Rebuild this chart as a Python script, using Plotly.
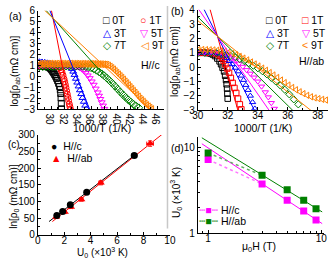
import numpy as np
import plotly.graph_objects as go

W, H = 334, 267
FONT = "Liberation Sans, Arial, DejaVu Sans, sans-serif"

# ---------------- panel (a): H//c, log(rho) vs 1000/T ----------------
a0_x = [28.2, 28.5, 28.8, 29.1, 29.4, 29.6, 29.75, 29.9, 30.05, 30.2, 30.35, 30.5, 30.65, 30.8, 30.95, 31.1, 31.25, 31.35, 31.42, 31.47, 31.5, 31.52]
a0_y = [0.95, 0.95, 0.94, 0.93, 0.9, 0.86, 0.8, 0.72, 0.6, 0.47, 0.33, 0.18, 0.02, -0.17, -0.38, -0.62, -0.9, -1.2, -1.55, -1.95, -2.45, -2.95]
a1_x = [28.2, 28.6, 29.0, 29.4, 29.8, 30.2, 30.6, 30.9, 31.1, 31.3, 31.45, 31.6, 31.75, 31.9, 32.0, 32.1, 32.2, 32.3, 32.4, 32.5, 32.6, 32.7, 32.8, 32.9]
a1_y = [1.0, 1.0, 1.0, 1.0, 1.0, 1.0, 0.98, 0.95, 0.9, 0.8, 0.62, 0.4, 0.12, -0.2, -0.45, -0.72, -1.0, -1.3, -1.6, -1.9, -2.2, -2.5, -2.75, -3.0]
a3_x = [28.2, 28.6, 29.0, 29.4, 29.8, 30.2, 30.6, 31.0, 31.4, 31.8, 32.2, 32.6, 32.9, 33.1, 33.3, 33.5, 33.7, 33.9, 34.1, 34.3, 34.5, 34.7, 34.9, 35.1, 35.3]
a3_y = [1.35, 1.33, 1.3, 1.25, 1.2, 1.15, 1.1, 1.05, 1.0, 1.0, 0.98, 0.95, 0.85, 0.7, 0.45, 0.15, -0.2, -0.55, -0.9, -1.25, -1.6, -1.95, -2.3, -2.65, -2.95]
a5_x = [28.2, 28.7, 29.2, 29.7, 30.2, 30.7, 31.2, 31.7, 32.2, 32.7, 33.2, 33.6, 34.0, 34.3, 34.6, 34.9, 35.2, 35.5, 35.8, 36.1, 36.4, 36.7, 37.0, 37.2, 37.4, 37.6, 37.8, 38.0]
a5_y = [1.0, 1.0, 1.0, 1.0, 1.0, 1.0, 1.0, 1.0, 0.98, 0.97, 0.95, 0.92, 0.87, 0.8, 0.68, 0.52, 0.33, 0.1, -0.15, -0.45, -0.75, -1.1, -1.45, -1.75, -2.05, -2.35, -2.65, -2.95]
a7_x = [28.2, 28.7, 29.2, 29.7, 30.2, 30.7, 31.2, 31.7, 32.2, 32.7, 33.2, 33.7, 34.2, 34.7, 35.2, 35.6, 36.0, 36.4, 36.8, 37.2, 37.6, 38.0, 38.4, 38.8, 39.2, 39.6, 40.0, 40.4, 40.8, 41.2, 41.6, 42.0, 42.4, 42.8, 43.2]
a7_y = [0.9, 0.9, 0.9, 0.9, 0.92, 0.93, 0.94, 0.95, 0.95, 0.95, 0.95, 0.95, 0.94, 0.93, 0.9, 0.86, 0.8, 0.7, 0.57, 0.42, 0.25, 0.06, -0.15, -0.38, -0.62, -0.88, -1.14, -1.4, -1.65, -1.9, -2.12, -2.33, -2.52, -2.7, -2.85]
a9_x = [28.2, 28.45, 28.7, 28.95, 29.2, 29.45, 29.7, 29.95, 30.2, 30.45, 30.7, 30.95, 31.2, 31.45, 31.7, 31.95, 32.2, 32.45, 32.7, 32.95,
        33.2, 33.45, 33.7, 33.95, 34.2, 34.45, 34.7, 34.95, 35.2, 35.45, 35.7, 35.95, 36.2, 36.45, 36.7, 36.95, 37.2, 37.45, 37.7, 37.95,
        38.2, 38.45, 38.7, 38.95, 39.2, 39.45, 39.7, 39.95, 40.2, 40.45, 40.7, 40.95, 41.2, 41.45, 41.7, 41.95, 42.2, 42.45, 42.7, 42.95,
        43.2, 43.45, 43.7, 43.95, 44.2, 44.45, 44.7, 44.95, 45.2]
a9_y = [1.15, 1.17, 1.16, 1.18, 1.15, 1.17, 1.16, 1.18, 1.15, 1.17, 1.16, 1.18, 1.15, 1.17, 1.16, 1.18, 1.15, 1.17, 1.16, 1.18,
        1.15, 1.17, 1.16, 1.17, 1.15, 1.16, 1.16, 1.17, 1.15, 1.16, 1.15, 1.16, 1.15, 1.15, 1.14, 1.14, 1.13, 1.13, 1.12, 1.11,
        1.1, 1.08, 1.0, 0.9, 0.78, 0.65, 0.5, 0.35, 0.2, 0.05, -0.1, -0.27, -0.44, -0.6, -0.78, -0.95, -1.12, -1.3, -1.47, -1.65,
        -1.82, -2.0, -2.15, -2.3, -2.45, -2.6, -2.72, -2.85, -2.97]
a_fields = ["0T", "1T", "3T", "5T", "7T", "9T"]
a_xticks = [30, 32, 34, 36, 38, 40, 42, 44, 46]
# linear fits in (a): slope and the common crossing point
a_fit_names = ["1T", "3T", "7T", "9T"]
a_fit_slope = [-3.1, -1.5, -0.676, -0.565]
a_cross = (30.24, 5.33)

# ---------------- panel (b): H//ab ----------------
b0_x = [30.05, 30.25, 30.45, 30.65, 30.85, 31.0, 31.15, 31.3, 31.45, 31.55, 31.65, 31.75, 31.82, 31.88, 31.92, 31.95, 31.97, 31.99]
b0_y = [1.0, 1.0, 1.0, 0.98, 0.95, 0.88, 0.77, 0.6, 0.4, 0.2, -0.05, -0.3, -0.6, -0.9, -1.2, -1.5, -1.85, -2.2]
b1_x = [30.05, 30.3, 30.55, 30.8, 31.05, 31.3, 31.45, 31.6, 31.72, 31.84, 31.96, 32.08, 32.2, 32.32, 32.44, 32.56, 32.68, 32.8, 32.9]
b1_y = [1.0, 1.0, 1.0, 1.0, 0.98, 0.92, 0.82, 0.65, 0.45, 0.2, -0.1, -0.4, -0.75, -1.1, -1.45, -1.8, -2.2, -2.6, -2.95]
b3_x = [30.05, 30.35, 30.65, 30.95, 31.25, 31.5, 31.7, 31.9, 32.1, 32.3, 32.5, 32.7, 32.9, 33.05, 33.2, 33.35, 33.5, 33.65, 33.8]
b3_y = [1.0, 1.0, 1.0, 1.0, 0.97, 0.9, 0.8, 0.62, 0.42, 0.2, -0.05, -0.3, -0.6, -0.9, -1.25, -1.6, -2.0, -2.45, -2.9]
b5_x = [30.05, 30.4, 30.75, 31.1, 31.45, 31.75, 32.0, 32.25, 32.5, 32.75, 33.0, 33.25, 33.5, 33.75, 34.0, 34.25, 34.5, 34.7, 34.9, 35.1]
b5_y = [1.0, 1.0, 1.0, 1.0, 0.97, 0.9, 0.78, 0.62, 0.45, 0.25, 0.03, -0.2, -0.45, -0.72, -1.0, -1.35, -1.75, -2.1, -2.5, -2.9]
b7_x = [30.05, 30.45, 30.85, 31.25, 31.6, 31.9, 32.2, 32.5, 32.8, 33.1, 33.4, 33.7, 34.0, 34.3, 34.6, 34.9, 35.2, 35.5, 35.8, 36.1, 36.4, 36.7]
b7_y = [1.0, 1.0, 1.0, 0.98, 0.93, 0.86, 0.78, 0.68, 0.56, 0.42, 0.27, 0.1, -0.08, -0.28, -0.5, -0.75, -1.0, -1.28, -1.58, -1.9, -2.25, -2.6]
b9_x = [30.05, 30.3, 30.55, 30.8, 31.05, 31.3, 31.55, 31.8, 32.05, 32.3, 32.55, 32.8, 33.05, 33.3, 33.55, 33.8, 34.05, 34.3, 34.55, 34.8,
        35.05, 35.3, 35.55, 35.8, 36.05, 36.3, 36.55, 36.8, 37.05, 37.3, 37.55, 37.8, 38.05, 38.3, 38.55]
b9_y = [1.22, 1.23, 1.22, 1.21, 1.2, 1.18, 1.15, 1.1, 1.03, 0.95, 0.86, 0.75, 0.63, 0.5, 0.36, 0.22, 0.08, -0.07, -0.22, -0.38,
        -0.55, -0.72, -0.9, -1.08, -1.25, -1.42, -1.58, -1.72, -1.85, -1.97, -2.07, -2.15, -2.2, -2.25, -2.3]
b_xticks = [30, 32, 34, 36, 38]
b_fit_names = ["1T", "3T", "5T", "7T", "9T"]
b_fit_slope = [-3.8, -2.1, -1.5, -1.03, -0.83]
b_cross = (31.31, 2.15)

# ---------------- panel (c): ln(rho0) vs U0 ----------------
c_Uc = [1.44, 1.88, 2.46, 3.7, 7.3]
c_lnc = [58, 70, 90, 128, 238]
c_Uab = [1.38, 2.05, 2.52, 3.3, 4.77, 8.5]
c_lnab = [53, 68, 83, 106, 156, 274]
c_errx_c = [0.08, 0.08, 0.1, 0.12, 0.2]
c_erry_c = [3, 3, 4, 5, 6]
c_errx_ab = [0.08, 0.08, 0.1, 0.12, 0.15, 0.25]
c_erry_ab = [3, 3, 4, 5, 6, 8]
c_fit_range_c = [0.85, 7.5]
c_fit_range_ab = [1.1, 9.7]

# ---------------- panel (d): U0 vs mu0H ----------------
d_H = [1, 3, 5, 7, 9]
d_Uc = [7.2, 3.75, 2.43, 1.82, 1.43]
d_Uab = [8.6, 4.72, 3.22, 2.43, 1.93]
d_fit_range = [0.88, 10.2]
d_minor_x = [0.9, 2, 3, 4, 5, 6, 7, 8, 9]
d_minor_y = [2, 3, 4, 5, 6, 7, 8, 9]

cols = {"0T": "#000000", "1T": "#ff0000", "3T": "#0000ff", "5T": "#ff00ff", "7T": "#008000", "9T": "#ff8000"}
sym_a = {"0T": "square-open", "1T": "circle-open", "3T": "triangle-up-open", "5T": "triangle-down-open",
         "7T": "diamond-open", "9T": "triangle-left-open"}
sym_b = dict(sym_a, **{"1T": "square-open"})
glyph_a = {"0T": "□", "1T": "○", "3T": "△", "5T": "▽", "7T": "◇", "9T": "◁"}
glyph_b = dict(glyph_a, **{"1T": "□", "9T": "&lt;"})

fig = go.Figure()

# (a) data
a_series = {"0T": (a0_x, a0_y), "1T": (a1_x, a1_y), "3T": (a3_x, a3_y), "5T": (a5_x, a5_y), "7T": (a7_x, a7_y), "9T": (a9_x, a9_y)}
for f in a_fields:
    xs, ys = a_series[f]
    fig.add_trace(go.Scatter(x=xs, y=ys, mode="markers", name=f, xaxis="x", yaxis="y",
                             marker=dict(symbol=sym_a[f], size=6, color=cols[f], line=dict(width=1, color=cols[f]))))
for f, s in zip(a_fit_names, a_fit_slope):
    xl = np.array([28.0, 47.0])
    fig.add_trace(go.Scatter(x=xl, y=a_cross[1] + s * (xl - a_cross[0]), mode="lines", xaxis="x", yaxis="y",
                             line=dict(color=cols[f], width=1), hoverinfo="skip"))

# (b) data
b_series = {"0T": (b0_x, b0_y), "1T": (b1_x, b1_y), "3T": (b3_x, b3_y), "5T": (b5_x, b5_y), "7T": (b7_x, b7_y), "9T": (b9_x, b9_y)}
for f in a_fields:
    xs, ys = b_series[f]
    fig.add_trace(go.Scatter(x=xs, y=ys, mode="markers", name=f, xaxis="x2", yaxis="y2",
                             marker=dict(symbol=sym_b[f], size=5.5, color=cols[f], line=dict(width=1, color=cols[f]))))
for f, s in zip(b_fit_names, b_fit_slope):
    xl = np.array([30.0, 39.0])
    fig.add_trace(go.Scatter(x=xl, y=b_cross[1] + s * (xl - b_cross[0]), mode="lines", xaxis="x2", yaxis="y2",
                             line=dict(color=cols[f], width=1), hoverinfo="skip"))

# (c)
pc = np.polyfit(c_Uc, c_lnc, 1)
pab = np.polyfit(c_Uab, c_lnab, 1)
xr = np.array(c_fit_range_ab)
fig.add_trace(go.Scatter(x=xr, y=np.polyval(pab, xr), mode="lines", xaxis="x3", yaxis="y3", line=dict(color="#ff0000", width=1)))
xr = np.array(c_fit_range_c)
fig.add_trace(go.Scatter(x=xr, y=np.polyval(pc, xr), mode="lines", xaxis="x3", yaxis="y3", line=dict(color="#000000", width=1)))
fig.add_trace(go.Scatter(x=c_Uab, y=c_lnab, mode="markers", name="H//ab", xaxis="x3", yaxis="y3",
                         marker=dict(symbol="triangle-up", size=7, color="#ff0000"),
                         error_x=dict(type="data", array=c_errx_ab, color="#ff0000", thickness=1, width=2),
                         error_y=dict(type="data", array=c_erry_ab, color="#ff0000", thickness=1, width=2)))
fig.add_trace(go.Scatter(x=c_Uc, y=c_lnc, mode="markers", name="H//c", xaxis="x3", yaxis="y3",
                         marker=dict(symbol="circle", size=7, color="#000000"),
                         error_x=dict(type="data", array=c_errx_c, color="#000000", thickness=1, width=2),
                         error_y=dict(type="data", array=c_erry_c, color="#000000", thickness=1, width=2)))

# (d)
for U, col, dcol in [(d_Uc, "#ff00ff", "#ff77ff"), (d_Uab, "#008000", "#66b066")]:
    p = np.polyfit(np.log10(d_H[1:]), np.log10(U[1:]), 1)
    xr = np.array(d_fit_range)
    fig.add_trace(go.Scatter(x=xr, y=10 ** np.polyval(p, np.log10(xr)), mode="lines", xaxis="x4", yaxis="y4",
                             line=dict(color=col, width=1)))
    fig.add_trace(go.Scatter(x=d_H[:2], y=U[:2], mode="lines", xaxis="x4", yaxis="y4",
                             line=dict(color=dcol, width=1.5, dash="dot")))
    fig.add_trace(go.Scatter(x=d_H, y=U, mode="markers", xaxis="x4", yaxis="y4",
                             marker=dict(symbol="square", size=7, color=col)))

tf = dict(size=10, color="black", family=FONT)


def ax(domain, rng, anchor, dtick=None, minor=None, typ="linear", tickvals=None, minorvals=None, xdir=False):
    d = dict(domain=domain, range=rng, anchor=anchor, type=typ, ticks="inside", ticklen=3, tickwidth=1,
             tickcolor="black", showline=True, linecolor="black", linewidth=1, mirror=False, showgrid=False,
             zeroline=False, tickfont=tf, fixedrange=True)
    if xdir:
        d["ticklabelstandoff"] = -4
    if dtick is not None:
        d.update(dtick=dtick, tick0=0)
        d["minor"] = dict(ticks="inside", ticklen=2, dtick=minor, tick0=0, tickcolor="black", showgrid=False)
    if tickvals is not None:
        d.update(tickmode="array", tickvals=tickvals, ticktext=[str(v) for v in tickvals])
        if minorvals is not None:
            d["minor"] = dict(ticks="inside", ticklen=2, tickmode="array", tickvals=minorvals, tickcolor="black", showgrid=False)
        else:
            d["minor"] = dict(ticks="inside", ticklen=2, dtick=minor, tick0=0, tickcolor="black", showgrid=False)
    return d


fig.update_layout(
    width=W, height=H, margin=dict(l=0, r=0, t=0, b=0), paper_bgcolor="white", plot_bgcolor="rgba(0,0,0,0)",
    showlegend=False, font=dict(family=FONT, size=10.5, color="black"),
    xaxis=ax([33.3 / W, 163.9 / W], [28, 47], "y", minor=1, tickvals=a_xticks, xdir=True),
    yaxis=ax([1 - 108.3 / H, 1 - 5 / H], [-3, 6], "x", 1, 0.5),
    xaxis2=ax([199 / W, 1.0], [30, 38.68], "y2", minor=1, tickvals=b_xticks, xdir=True),
    yaxis2=ax([1 - 109 / H, 1 - 4 / H], [-3, 4], "x2", 1, 0.5),
    xaxis3=ax([33 / W, 170 / W], [0, 10], "y3", 2, 1, xdir=True),
    yaxis3=ax([1 - 239.5 / H, 1 - 135 / H], [0, 300], "x3", 50, 25),
    xaxis4=ax([199 / W, 330 / W], [-0.091, 1.026], "y4", typ="log", tickvals=[1, 10], minorvals=d_minor_x, xdir=True),
    yaxis4=ax([1 - 238 / H, 1 - 137 / H], [0, 1.122], "x4", typ="log", tickvals=[1, 10], minorvals=d_minor_y),
)

ann = []


def A(text, x, y, xa="left", ya="middle", angle=0, size=10.5):
    ann.append(dict(text=text, x=x / W, y=1 - y / H, xref="paper", yref="paper", showarrow=False,
                    xanchor=xa, yanchor=ya, textangle=angle, font=dict(family=FONT, size=size, color="black")))


# panel labels
A("(a)", 1, 10)
A("(b)", 169, 5)
A("(c)", 0, 145, size=10)
A("(d)", 169, 149)
# axis titles
A("1000/T (1/K)", 100, 128, xa="center")
A("1000/T (1/K)", 267, 128, xa="center")
A("U<sub>0</sub> (×10<sup>3</sup> K)", 100, 258, xa="center", size=10)
A("μ<sub>0</sub>H (T)", 262, 252, xa="center")
A("log[ρ<sub>ab</sub>(mΩ cm)]", 9, 68, xa="center", angle=-90, size=10)
A("log[ρ<sub>ab</sub>(mΩ cm)]", 176, 58, xa="center", angle=-90, size=10)
A("ln[ρ<sub>0</sub> (mΩ cm)]", 8, 199, xa="center", angle=-90, size=10)
A("U<sub>0</sub> (×10<sup>3</sup> K)", 176, 195, xa="center", angle=-90, size=10)
# legends (a) and (b)
rows = [15, 28, 41]
for i, f in enumerate(a_fields):
    r, c = divmod(i, 2)
    xa0 = [99, 137][c]
    A('<span style="color:%s">%s</span> %s' % (cols[f], glyph_a[f], f), xa0, rows[r])
    xb0 = [268, 305][c]
    A('<span style="color:%s">%s</span> %s' % (cols[f], glyph_b[f], f), xb0, rows[r])
A("H//c", 138, 62)
A("H//ab", 302, 58)
# legend (c)
A('<span style="color:#000000">●</span>  H//c', 45, 147)
A('<span style="color:#ff0000">▲</span>  H//ab', 45, 159)
# legend (d)
A('<span style="color:#ff77ff">┅</span><span style="color:#ff00ff">■</span><span style="color:#ff77ff">┅</span> H//c', 198, 214)
A('<span style="color:#66b066">┅</span><span style="color:#008000">■</span><span style="color:#66b066">┅</span> H//ab', 198, 225)
fig.update_layout(annotations=ann)

fig.add_shape(type="line", xref="paper", yref="paper", x0=167.5 / W, x1=167.5 / W, y0=1, y1=1 - 233 / H,
              line=dict(color="#c8c8c8", width=1.5))

fig.write_html("out.html", config={"displayModeBar": False},
               post_script="document.body.style.margin='0';document.body.style.overflow='hidden';")
